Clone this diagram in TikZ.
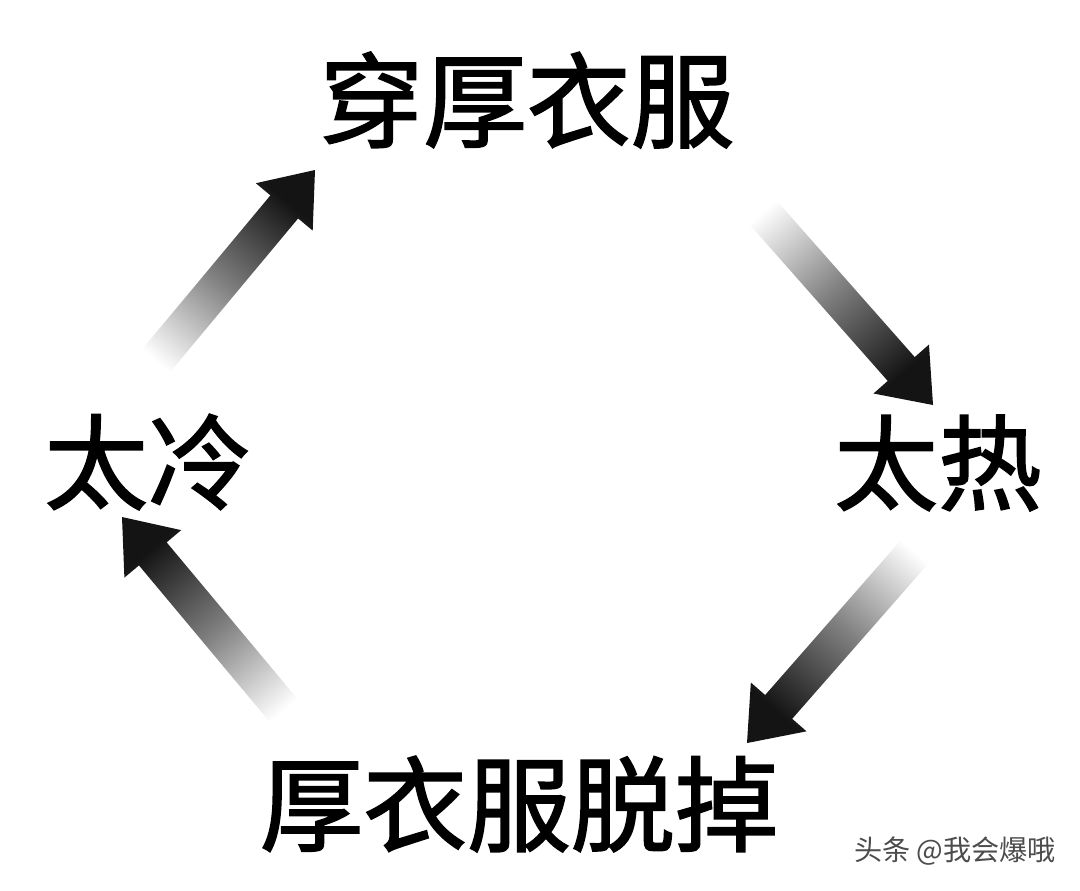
\documentclass[tikz,border=0pt]{standalone}
\usepackage{fontspec}
\usepackage{tikz}
\usetikzlibrary{positioning,calc}
\newfontfamily\cjk{Noto Sans CJK SC}
\newfontfamily\cjkheavy{Noto Sans CJK SC}[FakeBold=1.6]

% gradient arrow from #1 (tail) to #2 (tip), shading turned by #3
\newcommand{\fadearrow}[3]{%
  \path ($(#2)!0.48cm!(#1)$) coordinate (hb);
  \shade[fadebody, shading angle=#3]
    ($(#1)!0.18cm!90:(#2)$) -- ($(hb)!0.18cm!90:(#2)$) -- ($(hb)!0.37cm!90:(#2)$)
    -- (#2) -- ($(hb)!0.37cm!-90:(#2)$) -- ($(hb)!0.18cm!-90:(#2)$)
    -- ($(#1)!0.18cm!-90:(#2)$) -- cycle;
}

\begin{document}
\begin{tikzpicture}[
  x=0.01cm, y=-0.01cm,
  word/.style={inner sep=0pt,font=\cjkheavy\fontsize{29.5}{30}\selectfont},
  signtext/.style={inner sep=0pt,text=black!70,font=\cjk\fontsize{8}{9}\selectfont},
  fadebody/.style={top color=black!92,bottom color=white,middle color=black!50}
]
  \fill[white] (0,0) rectangle (1080,890);
  \useasboundingbox (0,0) rectangle (1080,890);

  \node[word] (wear) at (527,100) {穿厚衣服};
  \node[word] (hot)  at (938,463) {太热};
  \node[word] (off)  at (519,804) {厚衣服脱掉};
  \node[word] (cold) at (148,462) {太冷};

  \node[signtext] (sign) at (955,851) {头条 @我会爆哦};

  \coordinate (c1) at ([shift={(-8,-82)}]cold.center);
  \coordinate (w1) at ([shift={(-212,70)}]wear.center);
  \coordinate (w2) at ([shift={(218,92)}]wear.center);
  \coordinate (h1) at ([shift={(-5,-58)}]hot.center);
  \coordinate (h2) at ([shift={(-6,69)}]hot.center);
  \coordinate (o1) at ([shift={(228,-61)}]off.center);
  \coordinate (o2) at ([shift={(-219,-74)}]off.center);
  \coordinate (c2) at ([shift={(-26,55)}]cold.center);

  \fadearrow{c1}{w1}{-40}
  \fadearrow{w2}{h1}{-139}
  \fadearrow{h2}{o1}{139}
  \fadearrow{o2}{c2}{40}
\end{tikzpicture}
\end{document}
